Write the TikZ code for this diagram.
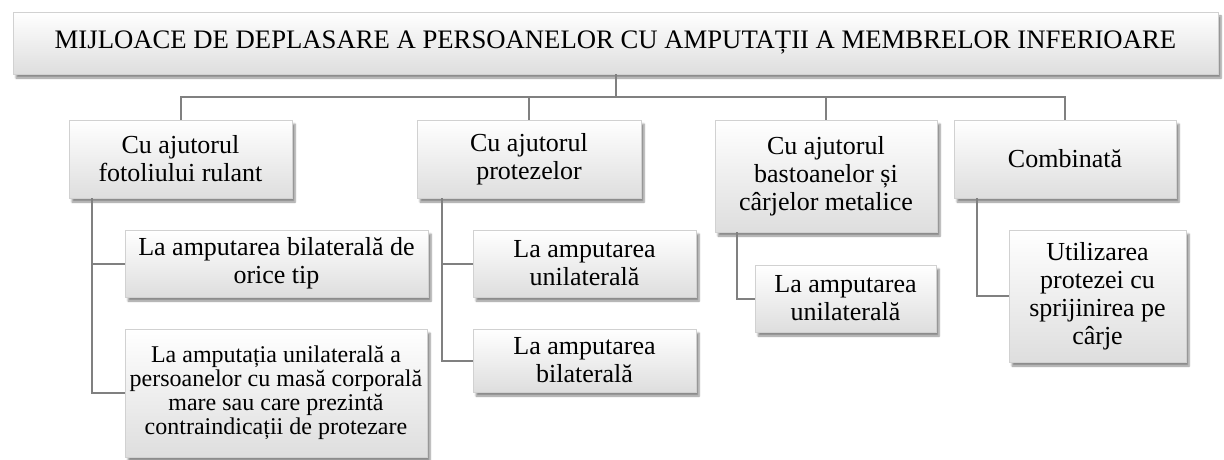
\documentclass[tikz,border=0pt]{standalone}
\usepackage{fontspec}
\setmainfont{Liberation Serif}
\usetikzlibrary{shadows.blur}
\begin{document}
\begin{tikzpicture}[x=1pt,y=-1pt,
  boxstyle/.style={draw=black!18, line width=0.6pt, top color=white, bottom color=black!13,
    blur shadow={shadow xshift=3pt, shadow yshift=-4pt, shadow blur steps=6, shadow opacity=45},
    align=center, inner sep=0pt, font=\fontsize{26}{28}\selectfont},
  conn/.style={draw=black!50, line width=2pt}]
\useasboundingbox (0,0) rectangle (1224,460);
\clip (0,0) rectangle (1224,460);
\newcommand\mybox[7][]{%
  \node[boxstyle, minimum width={#5-#3}, minimum height={#6-#4}, #1] (#2) at ({(#3+#5)/2},{(#4+#6)/2}) {#7};}
\mybox[font=\fontsize{26.7}{28}\selectfont]{top}{13}{12}{1218}{74}{MIJLOACE DE DEPLASARE A PERSOANELOR CU AMPUTAȚII A MEMBRELOR INFERIOARE}
\mybox{a}{69}{120}{292}{198}{Cu ajutorul\\fotoliului rulant}
\mybox{b}{417}{120}{641}{198}{Cu ajutorul\\protezelor}
\mybox{c}{715}{120}{937}{232}{Cu ajutorul\\bastoanelor și\\cârjelor metalice}
\mybox{d}{954}{120}{1176}{198}{Combinată}
\mybox{a1}{125}{230}{428}{297}{La amputarea bilaterală de\\orice tip}
\mybox[font=\fontsize{24}{24}\selectfont]{a2}{125}{329}{427}{457}{La amputația unilaterală a\\persoanelor cu masă corporală\\mare sau care prezintă\\contraindicații de protezare}
\mybox{b1}{473}{230}{696}{297}{La amputarea\\unilaterală}
\mybox{b2}{473}{329}{696}{392}{La amputarea\\bilaterală}
\mybox{c1}{755}{265}{936}{332}{La amputarea\\unilaterală}
\mybox{d1}{1009}{230}{1186}{362}{Utilizarea\\protezei cu\\sprijinirea pe\\cârje}
\coordinate (bus) at (0,97);
\draw[conn] (top.south) -- (top.south |- bus);
\draw[conn] (a.north) -- (a.north |- bus) -- (d.north |- bus) -- (d.north);
\draw[conn] (b.north) -- (b.north |- bus);
\draw[conn] (c.north) -- (c.north |- bus);
\coordinate (av) at ([xshift=23pt]a.south west);
\coordinate (bv) at ([xshift=25pt]b.south west);
\coordinate (cv) at ([xshift=22pt]c.south west);
\coordinate (dv) at ([xshift=23pt]d.south west);
\draw[conn] (av) |- (a1.west);
\draw[conn] (av) |- (a2.west);
\draw[conn] (bv) |- (b1.west);
\draw[conn] (bv) |- (b2.west);
\draw[conn] (cv) |- (c1.west);
\draw[conn] (dv) |- (d1.west);
\end{tikzpicture}
\end{document}
